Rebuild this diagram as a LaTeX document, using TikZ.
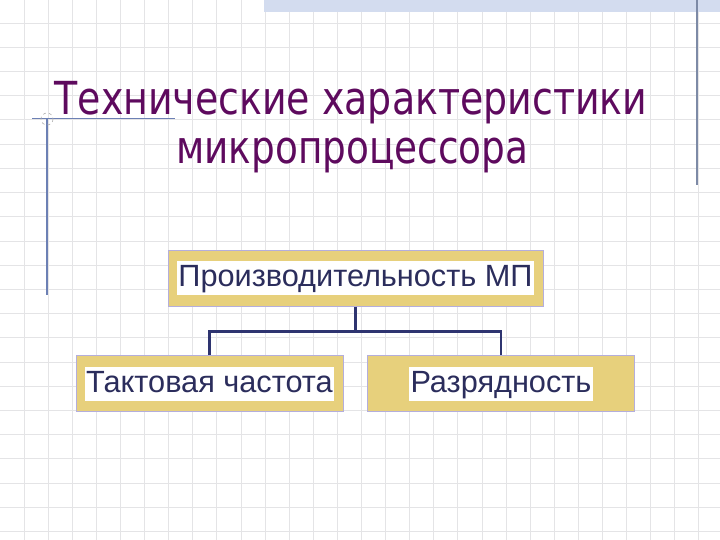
\documentclass[tikz,border=0pt]{standalone}
\usepackage{fontspec}
\setmainfont{Liberation Sans}
\newfontfamily\titlefont{DejaVu Sans Condensed}
\definecolor{gridc}{HTML}{E4E4E6}
\definecolor{bandc}{HTML}{D3DCEF}
\definecolor{rulec}{HTML}{6C80B4}
\definecolor{rrulec}{HTML}{7D8AA6}
\definecolor{titlec}{HTML}{5E0A5E}
\definecolor{goldc}{HTML}{E7D07C}
\definecolor{edgec}{HTML}{B4AEDC}
\definecolor{textc}{HTML}{2B2D5C}
\definecolor{linkc}{HTML}{2E3470}
\tikzset{
  x=1pt, y=-1pt,
  boxnode/.style={draw=edgec, line width=1pt, fill=goldc, minimum height=56pt, inner sep=0pt},
  labelnode/.style={fill=white, text=textc, inner xsep=1.5pt, inner ysep=0pt,
    text height=25.5pt, text depth=8.5pt, font=\fontsize{30.7}{34}\selectfont},
  titlenode/.style={text=titlec, inner sep=0pt, anchor=base, font=\titlefont\fontsize{45.5}{50}\selectfont},
  link/.style={draw=linkc, line width=2.2pt}
}
\begin{document}
\begin{tikzpicture}
\useasboundingbox (0,0) rectangle (720,540);
\fill[white] (0,0) rectangle (720,540);
% grid
\foreach \i in {1,...,29} {\draw[gridc, line width=1pt] (24.1*\i,0) -- (24.1*\i,540);}
\foreach \j in {1,...,22} {\draw[gridc, line width=1pt] (0,24.2*\j-1) -- (720,24.2*\j-1);}
% top band
\fill[bandc] (264,0) rectangle (720,12);
% decorative rules
\draw[rrulec, line width=1.3pt] (697,0) -- (697,185);
\draw[rulec, line width=1.2pt] (47,118) -- (47,295);
\draw[rulec, line width=1pt] (32,119) -- (175,119);
\draw[gray!60, dashed, line width=0.6pt] (47,119) circle (6);
% title
\node[titlenode] (t1) at (351,115) {\scalebox{0.926}[1]{Технические характеристики}};
\node[titlenode] (t2) at (352.5,164) {\scalebox{0.914}[1]{микропроцессора}};
% boxes
\node[boxnode, minimum width=375pt] (top) at (355.5,278) {};
\node[labelnode] (topl) at (top.center) {Производительность МП};
\node[boxnode, minimum width=267pt] (left) at (209.5,383.5) {};
\node[labelnode] (leftl) at (left.center) {Тактовая частота};
\node[boxnode, minimum width=267pt] (right) at (501,383.5) {};
\node[labelnode] (rightl) at (right.center) {Разрядность};
% connectors
\coordinate (j) at ([yshift=-25pt]top.south);
\draw[link] (top.south) -- (j);
\draw[link] (left.north) |- (j) -| (right.north);
\end{tikzpicture}
\end{document}
